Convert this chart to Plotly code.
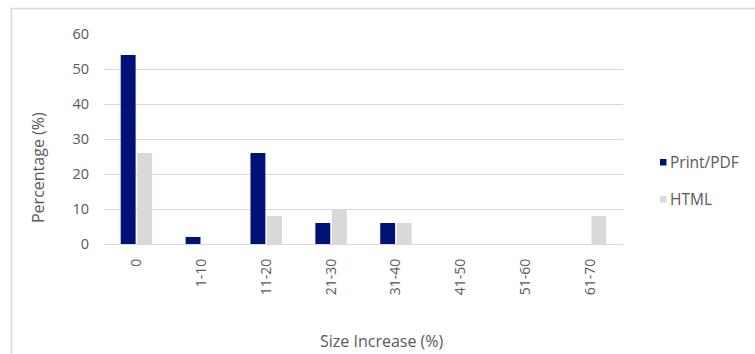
import plotly.graph_objects as go

# Share of documents by size increase, per output format
categories = ["0", "1-10", "11-20", "21-30", "31-40", "41-50", "51-60", "61-70"]
print_pdf = [54, 2, 26, 6, 6, 0, 0, 0]
html = [26, 0, 8, 10, 6, 0, 0, 8]
y_ticks = [0, 10, 20, 30, 40, 50, 60]

series_names = ["Print/PDF", "HTML"]
series_colors = ["#001278", "#D9D9D9"]

W, H = 755, 354
L, R, T, B = 104, 132, 34, 110
PW, PH = W - L - R, H - T - B

def px_x(px):
    return (px - L) / PW

def px_y(py):
    return (H - B - py) / PH

FONT = "Open Sans"
TXT = "#595959"
GRID = "#D9D9D9"

fig = go.Figure()
for name, color, vals in zip(series_names, series_colors, [print_pdf, html]):
    fig.add_trace(go.Bar(
        x=categories, y=vals, name=name,
        marker=dict(color=color, line=dict(width=0)),
        showlegend=False,
    ))

fig.update_layout(
    width=W, height=H,
    margin=dict(l=L, r=R, t=T, b=B, pad=0),
    paper_bgcolor="white", plot_bgcolor="white",
    barmode="group", bargap=0.49, bargroupgap=0.1,
    font=dict(family=FONT, color=TXT, size=14),
)

fig.update_xaxes(
    type="category", categoryorder="array", categoryarray=categories,
    tickangle=-90, showgrid=False, showline=False, ticks="",
    ticklabelstandoff=11,
    tickfont=dict(family=FONT, size=14, color=TXT),
)
fig.update_yaxes(
    range=[0, 60], tickvals=y_ticks, showgrid=True,
    gridcolor=GRID, gridwidth=1.4,
    zeroline=True, zerolinecolor=GRID, zerolinewidth=1.4,
    showline=False, ticks="", ticklabelstandoff=14,
    tickfont=dict(family=FONT, size=14.5, color=TXT),
)

# Axis titles
fig.add_annotation(
    text="Size Increase (%)", xref="paper", yref="paper",
    x=px_x(382), y=px_y(341), showarrow=False,
    xanchor="center", yanchor="middle",
    font=dict(family=FONT, size=16, color=TXT),
)
fig.add_annotation(
    text="Percentage (%)", xref="paper", yref="paper",
    x=px_x(38), y=px_y(168), showarrow=False, textangle=-90,
    xanchor="center", yanchor="middle",
    font=dict(family=FONT, size=16, color=TXT),
)

# Legend: small swatch plus label for each series
legend_rows = [162, 199]
for name, color, cy in zip(series_names, series_colors, legend_rows):
    fig.add_shape(
        type="rect", xref="paper", yref="paper",
        x0=px_x(660), x1=px_x(666.5), y0=px_y(cy + 3.5), y1=px_y(cy - 3),
        fillcolor=color, line=dict(width=0),
    )
    fig.add_annotation(
        text=name, xref="paper", yref="paper",
        x=px_x(668), y=px_y(cy), showarrow=False,
        xanchor="left", yanchor="middle",
        font=dict(family=FONT, size=15.5, color=TXT),
    )

# Chart frame
fig.add_shape(
    type="rect", xref="paper", yref="paper",
    x0=px_x(11.5), x1=px_x(780), y0=px_y(380), y1=px_y(8.5),
    line=dict(color=GRID, width=1.6), fillcolor="rgba(0,0,0,0)", layer="below",
)

fig.write_html("out.html")
